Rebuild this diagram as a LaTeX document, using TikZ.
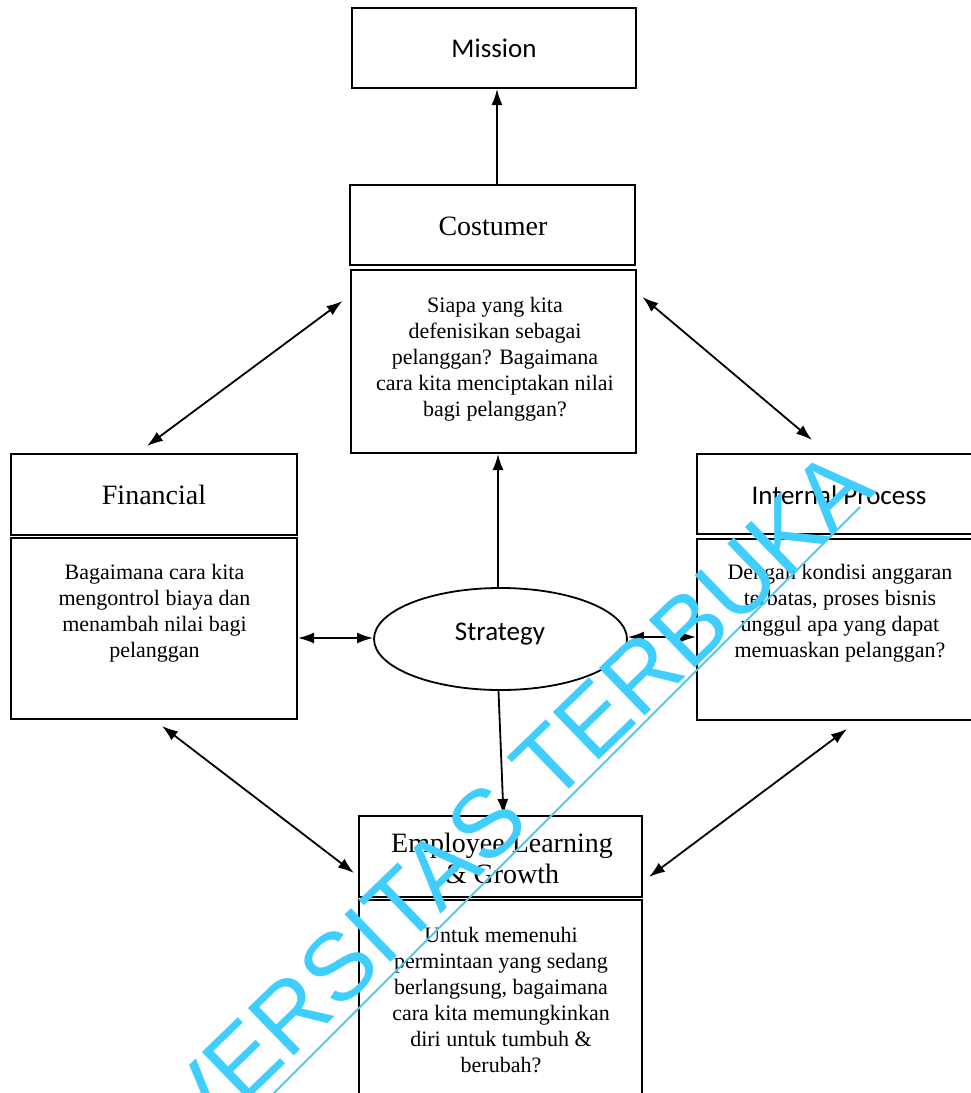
\documentclass[tikz,border=0pt]{standalone}
\usepackage{fontspec}
\setmainfont{Liberation Serif}
\newfontfamily\calib{Carlito}
\newfontfamily\wmfont{Liberation Sans}
\usetikzlibrary{arrows.meta,shapes.geometric}
\definecolor{wm}{RGB}{64,206,255}
\begin{document}
\begin{tikzpicture}[x=1pt,y=-1pt,
  box/.style={draw, line width=2pt, inner sep=0pt, rectangle},
  hdserif/.style={font=\fontsize{28}{31}\selectfont, align=center, inner sep=0pt},
  hdsans/.style={font=\calib\fontsize{27}{31}\selectfont, align=center, inner sep=0pt},
  bodytxt/.style={font=\fontsize{22}{26}\selectfont, align=center, inner sep=0pt},
  conn/.style={line width=1.8pt, -{Latex[length=16pt,width=11pt]}},
  bconn/.style={line width=1.8pt, {Latex[length=16pt,width=11pt]}-{Latex[length=16pt,width=11pt]}}
]
\useasboundingbox (0,0) rectangle (971,1093);
\clip (0,0) rectangle (971,1093);

% boxes
\node[box, minimum width=284pt, minimum height=80pt] (mission) at (494,48) {};
\node[hdsans] (missiont) at (494,48) {Mission};

\node[box, minimum width=285pt, minimum height=80pt] (cosh) at (492.5,225) {};
\node[hdserif] (cosht) at (493,226) {Costumer};
\node[box, minimum width=285pt, minimum height=183pt] (cosb) at (493,361.5) {};
\node[bodytxt] (cosbt) at (495,359) {Siapa yang kita\\defenisikan sebagai\\pelanggan? Bagaimana\\cara kita menciptakan nilai\\bagi pelanggan?};

\node[box, minimum width=286pt, minimum height=81pt] (finh) at (154,494.5) {};
\node[hdserif] (finht) at (154,495) {Financial};
\node[box, minimum width=286pt, minimum height=181pt] (finb) at (154,628.5) {};
\node[bodytxt] (finbt) at (154.5,613.5) {Bagaimana cara kita\\mengontrol biaya dan\\menambah nilai bagi\\pelanggan};

\node[box, minimum width=282pt, minimum height=80pt] (inth) at (838,494) {};
\node[hdsans] (intht) at (839,495) {Internal Process};
\node[box, minimum width=282pt, minimum height=181pt] (intb) at (838,629.5) {};
\node[bodytxt] (intbt) at (840,613.5) {Dengan kondisi anggaran\\terbatas, proses bisnis\\unggul apa yang dapat\\memuaskan pelanggan?};

\node[box, minimum width=283pt, minimum height=81pt] (emph) at (500.5,856.5) {};
\node[hdserif] (empht) at (502,858.5) {Employee Learning\\\& Growth};
\node[box, minimum width=283pt, minimum height=220pt] (empb) at (500.5,1010) {};
\node[bodytxt] (empbt) at (501,1000) {Untuk memenuhi\\permintaan yang sedang\\berlangsung, bagaimana\\cara kita memungkinkan\\diri untuk tumbuh \&\\berubah?};

\node[draw, ellipse, line width=1.8pt, minimum width=253pt, minimum height=102pt, inner sep=0pt] (strat) at (500.5,639) {};
\node[hdsans] (stratt) at (500,634) {Strategy};

% connectors
\draw[conn] ([xshift=4.5pt]cosh.north) -- ([xshift=3pt]mission.south);
\draw[conn] ([xshift=-2.5pt]strat.north) -- ([xshift=-2.5pt]strat.north |- cosb.south);
\draw[conn] ([xshift=-2pt]strat.south) -- ([xshift=3pt]emph.north);
\draw[bconn] ([yshift=1pt]strat.west -| finb.east) -- ([yshift=1pt]strat.west);
\draw[bconn] ([yshift=2pt]strat.east) -- ([yshift=2pt]strat.east -| intb.west);
\draw[bconn] ([xshift=-7pt,yshift=-32pt]cosb.north west) -- ([xshift=-7pt,yshift=7pt]finh.north);
\draw[bconn] ([xshift=6pt,yshift=-28pt]cosb.north east) -- ([xshift=-26pt,yshift=13pt]inth.north);
\draw[bconn] ([xshift=8pt,yshift=-6pt]finb.south) -- ([xshift=-4pt,yshift=-16.5pt]emph.west);
\draw[bconn] ([xshift=9pt,yshift=-8pt]intb.south) -- ([xshift=6pt,yshift=-20.5pt]emph.east);

% watermark
\node[text=wm, font=\wmfont\fontsize{96}{96}\selectfont, rotate=44, anchor=base west, inner sep=0pt] (wmtext) at (77,1265) {UNIVERSITAS TERBUKA};
\coordinate (wmA) at (860,507);
\coordinate (wmB) at (220,1147);
\draw[wm, line width=2pt] (wmA) -- (wmB);
\end{tikzpicture}
\end{document}
